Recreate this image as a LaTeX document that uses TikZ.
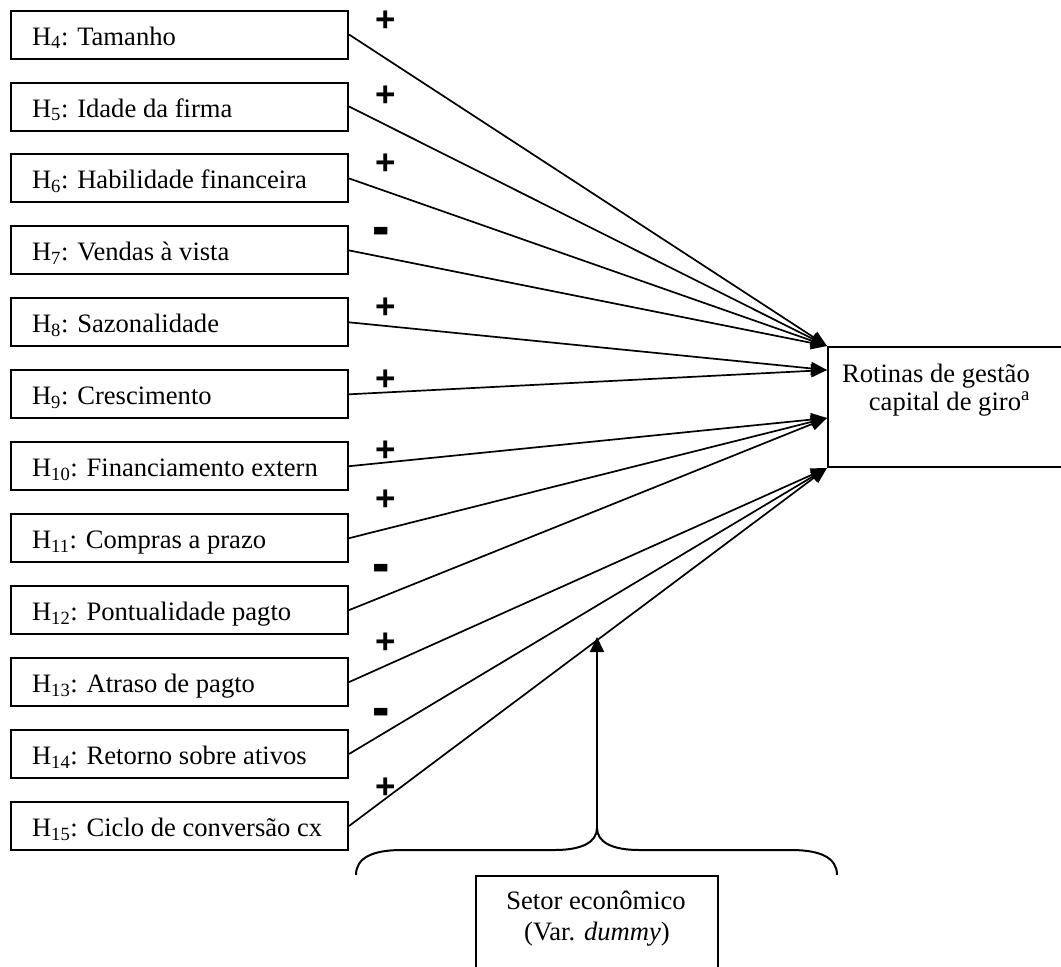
\documentclass[tikz,border=0pt]{standalone}
\usepackage{graphicx}
\usepackage{fontspec}
\setmainfont{Liberation Serif}
\newfontfamily\signfont{Liberation Sans}
\usetikzlibrary{arrows.meta}
\newcommand\hlbl[1]{\makebox[295pt][l]{#1}}
\newcommand\minussign{\scalebox{1.5}[1.8]{-}}
\begin{document}
\begin{tikzpicture}[x=1pt,y=-1pt,
  hbox/.style={draw, line width=2pt, minimum width=337pt, minimum height=48pt,
    inner xsep=21pt, inner ysep=0pt,
    text height=21pt, text depth=0pt, font=\fontsize{26.6}{28}\selectfont},
  frame/.style={draw, line width=2pt, inner sep=0pt, anchor=north west},
  txt/.style={inner sep=0pt, font=\fontsize{26.6}{28}\selectfont},
  conn/.style={line width=1.7pt, -{Triangle[length=16pt,width=13pt]}},
  vconn/.style={line width=2pt, -{Triangle[length=15pt,width=14pt]}},
  sign/.style={inner sep=0pt, font=\signfont\bfseries\fontsize{35}{35}\selectfont},
  brace/.style={line width=2pt},
]
\useasboundingbox (0,0) rectangle (1061,967);
\clip (0,0) rectangle (1061,967);

% left hypothesis boxes
\node[hbox] (h4)  at (179.5, 34.5)  {\hlbl{H\textsubscript{4}: Tamanho}};
\node[hbox] (h5)  at (179.5, 106.5) {\hlbl{H\textsubscript{5}: Idade da firma}};
\node[hbox] (h6)  at (179.5, 178.4) {\hlbl{H\textsubscript{6}: Habilidade financeira}};
\node[hbox] (h7)  at (179.5, 250.4) {\hlbl{H\textsubscript{7}: Vendas à vista}};
\node[hbox] (h8)  at (179.5, 322.3) {\hlbl{H\textsubscript{8}: Sazonalidade}};
\node[hbox] (h9)  at (179.5, 394.3) {\hlbl{H\textsubscript{9}: Crescimento}};
\node[hbox] (h10) at (179.5, 466.2) {\hlbl{H\textsubscript{10}: Financiamento extern}};
\node[hbox] (h11) at (179.5, 538.2) {\hlbl{H\textsubscript{11}: Compras a prazo}};
\node[hbox] (h12) at (179.5, 610.1) {\hlbl{H\textsubscript{12}: Pontualidade pagto}};
\node[hbox] (h13) at (179.5, 682.1) {\hlbl{H\textsubscript{13}: Atraso de pagto}};
\node[hbox] (h14) at (179.5, 754.0) {\hlbl{H\textsubscript{14}: Retorno sobre ativos}};
\node[hbox] (h15) at (179.5, 826.0) {\hlbl{H\textsubscript{15}: Ciclo de conversão cx}};

% signs
\node[sign] (s4)  at (386, 21)   {+};
\node[sign] (s5)  at (386, 96)   {+};
\node[sign] (s6)  at (386, 164.5) {+};
\node[sign] (s7)  at (381, 237.5) {\minussign};
\node[sign] (s8)  at (386, 308)  {+};
\node[sign] (s9)  at (386, 380)  {+};
\node[sign] (s10) at (386, 451.5) {+};
\node[sign] (s11) at (386, 500)  {+};
\node[sign] (s12) at (381, 574)  {\minussign};
\node[sign] (s13) at (386, 643.5) {+};
\node[sign] (s14) at (381, 718)  {\minussign};
\node[sign] (s15) at (386, 788)  {+};

% dependent variable box
\node[frame, minimum width=320pt, minimum height=120pt] (rot) at (827,346) {};
\node[txt, anchor=base east] (rot1) at (1030,382) {Rotinas de gestão};
\node[txt, anchor=base east] (rot2) at (1030,410) {capital de giro\textsuperscript{a}};

\coordinate (ta) at (rot.north west);
\coordinate (tb) at ([yshift=-24pt]rot.north west);
\coordinate (tc) at ([yshift=-72pt]rot.north west);
\coordinate (td) at (rot.south west);

% connectors
\draw[conn] (h4.east)  -- (ta);
\draw[conn] (h5.east)  -- (ta);
\draw[conn] (h6.east)  -- (ta);
\draw[conn] (h7.east)  -- (ta);
\draw[conn] (h8.east)  -- (tb);
\draw[conn] (h9.east)  -- (tb);
\draw[conn] (h10.east) -- (tc);
\draw[conn] (h11.east) -- (tc);
\draw[conn] (h12.east) -- (tc);
\draw[conn] (h13.east) -- (td);
\draw[conn] (h14.east) -- (td);
\draw[conn] (h15.east) -- (td);

% sector box
\node[frame, minimum width=242pt, minimum height=120pt] (setor) at (475,875) {};
\node[txt, anchor=base] (set1) at (596,909) {Setor econômico};
\node[txt, anchor=base] (set2) at (597,940) {(Var. \textit{dummy})};

% brace
\coordinate (brtip) at (597,828);
\coordinate (meet) at (597,637);
\draw[brace] (356,875) .. controls (356,858) and (372,850) .. (402,850)
  -- (555,850) .. controls (582,850) and (597,842) .. (brtip)
  .. controls (597,842) and (612,850) .. (639,850)
  -- (791,850) .. controls (821,850) and (837,858) .. (837,875);
\draw[vconn] (brtip) -- (meet);
\end{tikzpicture}
\end{document}
